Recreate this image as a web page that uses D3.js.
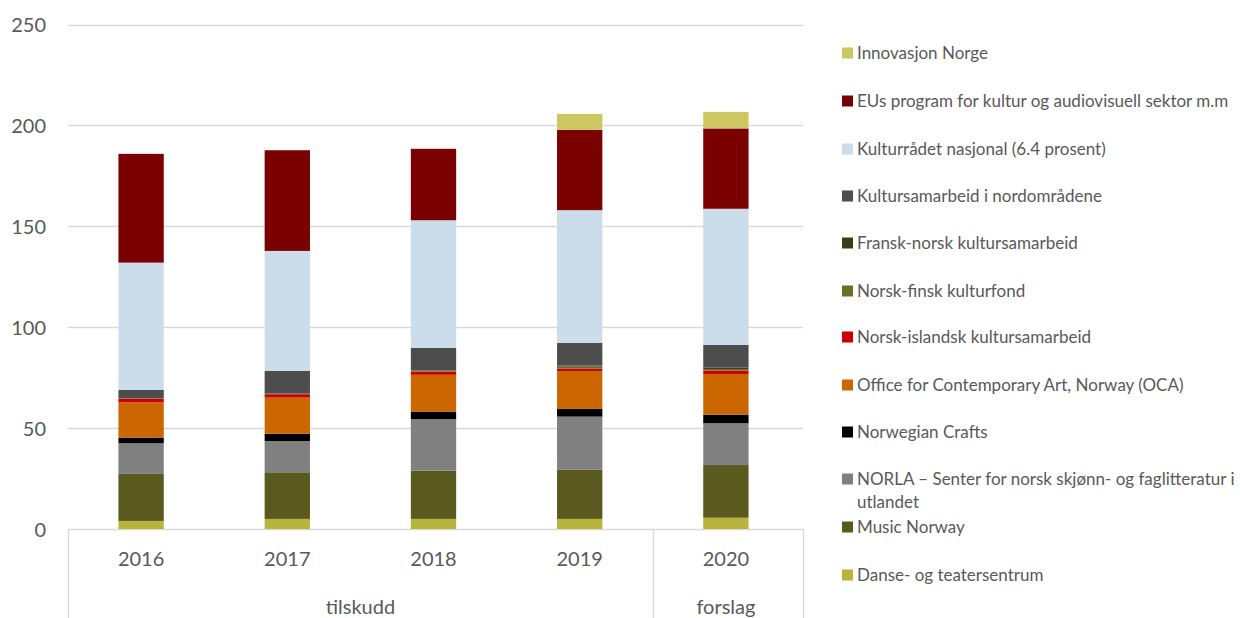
<!DOCTYPE html>
<html>
<head>
<meta charset="utf-8">
<script src="https://cdn.jsdelivr.net/npm/d3@7"></script>
<style>
  body { margin: 0; background: #fff; }
  svg text { font-family: Lato, "Open Sans", sans-serif; fill: #595959; }
</style>
</head>
<body>
<svg id="chart" width="1240" height="618"></svg>
<script>
const years = ["2016", "2017", "2018", "2019", "2020"];
const groups = [
  { label: "tilskudd", from: "2016", to: "2019" },
  { label: "forslag", from: "2020", to: "2020" }
];
const yTicks = [0, 50, 100, 150, 200, 250];

// series listed bottom -> top of stack
const seriesNames = [
  "Danse- og teatersentrum",
  "Music Norway",
  "NORLA – Senter for norsk skjønn- og faglitteratur i utlandet",
  "Norwegian Crafts",
  "Office for Contemporary Art, Norway (OCA)",
  "Norsk-islandsk kultursamarbeid",
  "Norsk-finsk kulturfond",
  "Fransk-norsk kultursamarbeid",
  "Kultursamarbeid i nordområdene",
  "Kulturrådet nasjonal (6.4 prosent)",
  "EUs program for kultur og audiovisuell sektor m.m",
  "Innovasjon Norge"
];
const danse      = [4.0, 5.0, 5.0, 5.0, 5.6];
const music      = [23.3, 23.1, 23.9, 24.4, 26.1];
const norla      = [15.2, 15.5, 25.6, 26.3, 20.7];
const crafts     = [2.8, 3.6, 3.7, 3.8, 4.3];
const oca        = [17.5, 17.9, 18.2, 18.8, 20.1];
const islandsk   = [1.7, 1.7, 1.6, 1.2, 1.7];
const finsk      = [0.2, 0.2, 0.4, 1.0, 0.8];
const fransk     = [0.1, 0.1, 0.2, 0.5, 0.7];
const nord       = [4.1, 11.2, 11.1, 11.2, 11.2];
const kultur     = [63.1, 59.5, 63.3, 65.8, 67.5];
const eu         = [53.9, 49.9, 35.4, 39.8, 39.8];
const innovasjon = [0, 0, 0, 7.9, 8.2];
const seriesValues = [danse, music, norla, crafts, oca, islandsk, finsk, fransk, nord, kultur, eu, innovasjon];
const colors = ["#b8b43e", "#5b5a1e", "#808080", "#000000", "#cc6600", "#cc0000",
                "#6e6e24", "#3c3c14", "#4d4d4d", "#cbdcea", "#7b0000", "#ccc761"];

const svg = d3.select("#chart");
const plotLeft = 68, plotRight = 803, bandRight = 799, plotTop = 24.5, plotBottom = 529;

const x = d3.scaleBand().domain(years).range([plotLeft, bandRight]).paddingInner(0.69).paddingOuter(0.345);
const y = d3.scaleLinear().domain([0, 250]).range([plotBottom, plotTop]);

// gridlines
svg.append("g").selectAll("line").data(yTicks).join("line")
  .attr("x1", plotLeft).attr("x2", plotRight)
  .attr("y1", d => Math.round(y(d)) + 0.5).attr("y2", d => Math.round(y(d)) + 0.5)
  .attr("stroke", "#d9d9d9").attr("stroke-width", 1.3);

// y axis labels
const yAxis = d3.axisLeft(y).tickValues(yTicks).tickSize(0).tickPadding(0);
const ya = svg.append("g").attr("transform", `translate(46,0)`).call(yAxis);
ya.select(".domain").remove();
ya.selectAll("text").attr("font-size", 20).style("font-family", "Lato, sans-serif").attr("fill", "#595959").attr("dy", "0.35em");

// stacked data
const table = years.map((yr, i) => {
  const o = { year: yr };
  seriesNames.forEach((s, k) => o[s] = seriesValues[k][i]);
  return o;
});
const stack = d3.stack().keys(seriesNames)(table);

svg.append("g").selectAll("g").data(stack).join("g")
  .attr("fill", (d, i) => colors[i])
  .selectAll("rect").data(d => d).join("rect")
  .attr("x", d => x(d.data.year))
  .attr("width", x.bandwidth())
  .attr("y", d => y(d[1]))
  .attr("height", d => Math.max(0, y(d[0]) - y(d[1])));

// category axis separators
const sepColor = "#d9d9d9";
const half = (x.step() - x.bandwidth()) / 2;
const xs = [plotLeft, x(groups[1].from) - half, plotRight];
svg.append("g").selectAll("line").data(xs).join("line")
  .attr("x1", d => Math.round(d) + 0.5).attr("x2", d => Math.round(d) + 0.5)
  .attr("y1", plotBottom).attr("y2", 618)
  .attr("stroke", sepColor).attr("stroke-width", 1.3);

// year labels
svg.append("g").selectAll("text").data(years).join("text")
  .attr("x", d => x(d) + x.bandwidth() / 2)
  .attr("y", 566)
  .attr("text-anchor", "middle")
  .attr("font-size", 20)
  .text(d => d);

// group labels
svg.append("g").selectAll("text").data(groups).join("text")
  .attr("x", g => {
    const a = x(g.from) - half;
    const b = x(g.to) + x.bandwidth() + half;
    return (a + b) / 2;
  })
  .attr("y", 614)
  .attr("text-anchor", "middle")
  .attr("font-size", 20)
  .text(g => g.label);

// legend (top -> bottom reversed order)
const legendRows = seriesNames.map((s, i) => ({ name: s, color: colors[i] })).reverse();
const rowY = [53, 101, 149, 196, 243, 291, 337, 385, 432, 479, 527, 575];
const lg = svg.append("g");
const fs = 17;
legendRows.forEach((r, i) => {
  const cy = rowY[i];
  lg.append("rect").attr("x", 842).attr("y", cy - 5.5).attr("width", 11).attr("height", 11).attr("fill", r.color);
  if (r.name.startsWith("NORLA")) {
    lg.append("text").attr("x", 857).attr("y", cy).attr("dy", "0.35em").attr("font-size", fs)
      .text("NORLA – Senter for norsk skjønn- og faglitteratur i");
    lg.append("text").attr("x", 857).attr("y", cy + 23).attr("dy", "0.35em").attr("font-size", fs)
      .text("utlandet");
  } else {
    lg.append("text").attr("x", 857).attr("y", cy).attr("dy", "0.35em").attr("font-size", fs).text(r.name);
  }
});
</script>
</body>
</html>
